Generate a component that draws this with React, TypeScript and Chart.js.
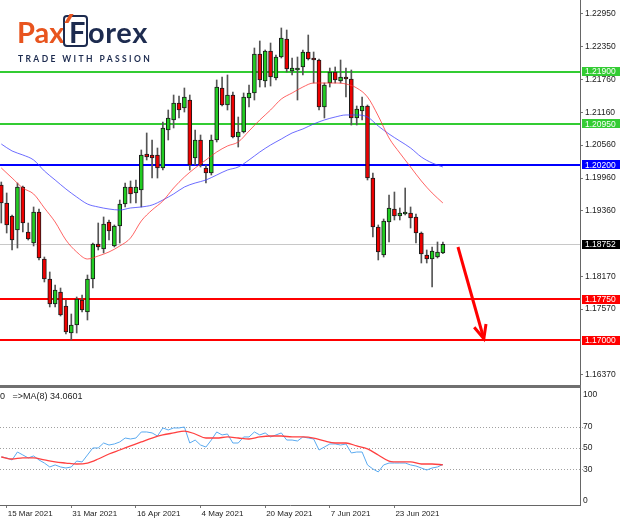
import React, { useEffect, useRef } from 'react';
import { Chart, registerables } from 'chart.js';

Chart.register(...registerables);

// ---------- Data (EURUSD daily) ----------
const OPEN = [
  1.19833, 1.19505, 1.19268, 1.19013, 1.19796, 1.18976, 1.18776, 1.19341, 1.18484, 1.18119,
  1.17664, 1.17882, 1.17627, 1.17135, 1.17281, 1.17737, 1.17518, 1.18119, 1.18757, 1.18666,
  1.19158, 1.18721, 1.19085, 1.19486, 1.19796, 1.19687, 1.19742, 1.20398, 1.20380, 1.20380,
  1.20143, 1.20835, 1.21018, 1.21328, 1.21236, 1.21382, 1.20325, 1.20653, 1.20143, 1.20052,
  1.20653, 1.21601, 1.21291, 1.21473, 1.20708, 1.20799, 1.21419, 1.21510, 1.22221, 1.21729,
  1.22275, 1.21783, 1.22166, 1.22494, 1.21911, 1.21929, 1.21984, 1.22257, 1.22148, 1.22111,
  1.21255, 1.21692, 1.21893, 1.21729, 1.21801, 1.21765, 1.21054, 1.21182, 1.21273, 1.19960,
  1.19067, 1.18557, 1.19158, 1.19395, 1.19268, 1.19304, 1.19322, 1.19250, 1.18958, 1.18557,
  1.18484, 1.18520, 1.18593,
];
const HIGH = [
  1.19887, 1.19687, 1.19286, 1.19869, 1.19815, 1.19140, 1.19432, 1.19395, 1.18520, 1.18247,
  1.18010, 1.17955, 1.17737, 1.17481, 1.17791, 1.17828, 1.18192, 1.18776, 1.19140, 1.19250,
  1.19195, 1.19104, 1.19559, 1.19869, 1.19906, 1.19924, 1.20471, 1.20781, 1.20653, 1.20507,
  1.20981, 1.21200, 1.21473, 1.21455, 1.21601, 1.21473, 1.20835, 1.20744, 1.20197, 1.20744,
  1.21747, 1.21801, 1.21838, 1.21528, 1.21072, 1.21510, 1.21656, 1.22330, 1.22458, 1.22294,
  1.22421, 1.22202, 1.22695, 1.22658, 1.22148, 1.22166, 1.22294, 1.22567, 1.22257, 1.22130,
  1.21692, 1.21965, 1.21984, 1.22111, 1.21965, 1.21929, 1.21273, 1.21437, 1.21291, 1.20052,
  1.19104, 1.19213, 1.19651, 1.19705, 1.19414, 1.19778, 1.19432, 1.19304, 1.18976, 1.18648,
  1.18703, 1.18794, 1.18794,
];
const LOW = [
  1.19140, 1.18958, 1.18648, 1.18684, 1.18976, 1.18830, 1.18721, 1.18466, 1.18065, 1.17609,
  1.17609, 1.17445, 1.17117, 1.17007, 1.17135, 1.17518, 1.17372, 1.17955, 1.18648, 1.18593,
  1.18830, 1.18703, 1.18776, 1.19432, 1.19505, 1.19505, 1.19432, 1.20289, 1.19960, 1.19960,
  1.20106, 1.20653, 1.20872, 1.21054, 1.21163, 1.20106, 1.20197, 1.20161, 1.19869, 1.20015,
  1.20617, 1.21273, 1.21200, 1.20690, 1.20525, 1.20781, 1.21255, 1.21382, 1.21619, 1.21619,
  1.21637, 1.21747, 1.22148, 1.21893, 1.21838, 1.21382, 1.21838, 1.22111, 1.21692, 1.21200,
  1.21054, 1.21619, 1.21692, 1.21692, 1.21437, 1.20926, 1.20926, 1.21018, 1.19924, 1.18885,
  1.18466, 1.18520, 1.18794, 1.19195, 1.19195, 1.19286, 1.19049, 1.18776, 1.18411, 1.18411,
  1.17974, 1.18502, 1.18580,
];
const CLOSE = [
  1.19505, 1.19104, 1.18830, 1.19796, 1.19140, 1.18849, 1.19341, 1.18502, 1.18119, 1.17664,
  1.17919, 1.17463, 1.17153, 1.17281, 1.17755, 1.17554, 1.18119, 1.18757, 1.18703, 1.19122,
  1.18994, 1.19085, 1.19486, 1.19796, 1.19669, 1.19796, 1.20380, 1.20343, 1.20325, 1.20143,
  1.20872, 1.21054, 1.21328, 1.21200, 1.21437, 1.20197, 1.20653, 1.20197, 1.20052, 1.20653,
  1.21619, 1.21291, 1.21473, 1.20708, 1.20799, 1.21437, 1.21510, 1.22221, 1.21747, 1.22275,
  1.21801, 1.22166, 1.22512, 1.21947, 1.21965, 1.21947, 1.22257, 1.22130, 1.22111, 1.21255,
  1.21656, 1.21893, 1.21747, 1.21801, 1.21765, 1.21054, 1.21218, 1.21273, 1.19960, 1.19067,
  1.18612, 1.19177, 1.19414, 1.19268, 1.19322, 1.19341, 1.19231, 1.18958, 1.18575, 1.18484,
  1.18630, 1.18612, 1.18752,
];

// moving averages sampled every second bar
const MA_IDX = [
  0, 2, 4, 6, 8, 10, 12, 14, 16, 18, 20, 22, 24, 26, 28, 30, 32, 34, 36, 38, 40,
  42, 44, 46, 48, 50, 52, 54, 56, 58, 60, 62, 64, 66, 68, 70, 72, 74, 76, 78, 80, 82,
];
const RED_MA = [
  1.20143, 1.19960, 1.19778, 1.19669, 1.19414, 1.19158, 1.18830, 1.18612, 1.18484, 1.18539,
  1.18612, 1.18721, 1.18867, 1.19177, 1.19377, 1.19541, 1.19778, 1.19979, 1.20143, 1.20289,
  1.20434, 1.20544, 1.20617, 1.20817, 1.21018, 1.21200, 1.21400, 1.21510, 1.21619, 1.21692,
  1.21692, 1.21692, 1.21674, 1.21601, 1.21437, 1.21091, 1.20690, 1.20416, 1.20161, 1.19906,
  1.19687, 1.19505,
];
const BLUE_MA = [
  1.20580, 1.20453, 1.20380, 1.20289, 1.20088, 1.19924, 1.19760, 1.19614, 1.19486, 1.19432,
  1.19395, 1.19377, 1.19414, 1.19432, 1.19468, 1.19559, 1.19669, 1.19796, 1.19869, 1.19924,
  1.20015, 1.20106, 1.20161, 1.20289, 1.20434, 1.20562, 1.20671, 1.20781, 1.20854, 1.20945,
  1.21018, 1.21072, 1.21109, 1.21109, 1.21072, 1.20908, 1.20762, 1.20635, 1.20507, 1.20343,
  1.20234, 1.20161,
];

// oscillator panel
const OSC = [
  41.5, 40.6, 38.7, 46.2, 43.4, 40.6, 42.5, 38.7, 35.8, 32.1,
  34.0, 32.1, 31.1, 32.1, 37.7, 36.8, 43.4, 50.0, 50.0, 54.7,
  52.8, 53.8, 55.7, 59.4, 58.5, 59.4, 65.1, 65.1, 64.2, 61.3,
  68.9, 67.0, 68.9, 68.9, 69.8, 54.7, 57.5, 52.8, 50.9, 57.5,
  65.1, 62.3, 63.2, 54.7, 54.7, 60.4, 60.4, 65.1, 62.3, 64.2,
  60.4, 62.3, 64.2, 57.5, 57.5, 56.6, 60.4, 59.4, 58.5, 48.1,
  50.9, 53.8, 53.8, 52.8, 53.8, 45.3, 46.2, 46.2, 34.0, 30.2,
  27.4, 34.0, 35.8, 35.8, 35.8, 35.8, 34.0, 33.0, 31.1, 29.2,
  31.1, 32.1, 34.5,
];
const OSC_MA = [
  41.5, 39.6, 40.6, 40.6, 38.7, 36.8, 35.8, 34.9, 35.8, 39.6,
  44.3, 48.1, 51.9, 55.7, 59.4, 62.3, 64.2, 66.0, 63.2, 59.4,
  59.4, 60.4, 59.4, 58.5, 60.4, 61.3, 61.3, 60.4, 60.4, 59.4,
  56.6, 54.7, 54.7, 51.9, 49.1, 43.4, 37.7, 36.8, 36.8, 34.9,
  34.9, 34.06,
];

const PRICE_TICKS = [1.2295, 1.2235, 1.2176, 1.2116, 1.2056, 1.1996, 1.1936, 1.1817, 1.1757, 1.1637];
const OSC_TICKS = [0, 30, 50, 70, 100];
const OSC_GRID = [30, 50, 70];
const DATE_TICK_IDX = [1, 13, 25, 37, 49, 61, 73];
const DATE_LABELS = ['15 Mar 2021', '31 Mar 2021', '16 Apr 2021', '4 May 2021', '20 May 2021', '7 Jun 2021', '23 Jun 2021'];
const LEVEL_PRICES = [1.219, 1.2095, 1.202, 1.1775, 1.17];
const LAST_PRICE = 1.18752;
const ARROW_FROM = [84.8, 1.18703];
const ARROW_TO = [89.6, 1.1703];

// ---------- styles ----------
const LEVEL_COLORS = ['#33cc33', '#33cc33', '#0000ff', '#ff0000', '#ff0000'];
const X_MIN = -0.24;
const X_MAX = 107.46;
const Y_MIN = 1.16187;
const Y_MAX = 1.23205;
const OSC_MIN = -3.8;
const OSC_MAX = 106.6;
const FAMILY = '"Liberation Sans", Arial, sans-serif';
const FONT = { family: FAMILY, size: 8.5 };
const DATE_FONT = { family: FAMILY, size: 8 };
const NAVY = '#1d2b4f';
const ORANGE = '#e8541e';

const mainPlugin = {
  id: 'mainDeco',
  beforeDatasetsDraw(chart: any) {
    const { ctx, chartArea: a, scales } = chart;
    const y = scales.y;
    ctx.save();
    const yl = Math.round(y.getPixelForValue(LAST_PRICE)) + 0.5;
    ctx.strokeStyle = '#c8c8c8';
    ctx.lineWidth = 1;
    ctx.beginPath();
    ctx.moveTo(a.left, yl);
    ctx.lineTo(a.right, yl);
    ctx.stroke();
    LEVEL_PRICES.forEach((p, k) => {
      const py = Math.round(y.getPixelForValue(p));
      ctx.strokeStyle = LEVEL_COLORS[k];
      ctx.lineWidth = 2;
      ctx.beginPath();
      ctx.moveTo(a.left, py);
      ctx.lineTo(a.right, py);
      ctx.stroke();
    });
    ctx.restore();
  },
  afterDraw(chart: any) {
    const { ctx, chartArea: a, scales } = chart;
    const x = scales.x;
    const y = scales.y;
    ctx.save();
    // arrow
    const x1 = x.getPixelForValue(ARROW_FROM[0]);
    const y1 = y.getPixelForValue(ARROW_FROM[1]);
    const x2 = x.getPixelForValue(ARROW_TO[0]);
    const y2 = y.getPixelForValue(ARROW_TO[1]);
    ctx.strokeStyle = '#ff0000';
    ctx.lineWidth = 3;
    ctx.beginPath();
    ctx.moveTo(x1, y1);
    ctx.lineTo(x2, y2);
    ctx.stroke();
    const ang = Math.atan2(y2 - y1, x2 - x1);
    const L = 15;
    const sp = 0.42;
    ctx.beginPath();
    ctx.moveTo(x2 - L * Math.cos(ang - sp), y2 - L * Math.sin(ang - sp));
    ctx.lineTo(x2, y2);
    ctx.lineTo(x2 - L * Math.cos(ang + sp), y2 - L * Math.sin(ang + sp));
    ctx.stroke();
    // price boxes
    ctx.font = `${FONT.size}px ${FONT.family}`;
    ctx.textBaseline = 'middle';
    ctx.textAlign = 'left';
    const box = (p: number, bg: string) => {
      const py = y.getPixelForValue(p);
      ctx.fillStyle = bg;
      ctx.fillRect(a.right + 2, Math.round(py - 4.5), 38, 9);
      ctx.fillStyle = '#ffffff';
      ctx.fillText(p.toFixed(5), a.right + 5, py + 0.5);
    };
    LEVEL_PRICES.forEach((p, k) => box(p, LEVEL_COLORS[k]));
    box(LAST_PRICE, '#000000');
    ctx.restore();
  },
};

const oscPlugin = {
  id: 'oscDeco',
  beforeDatasetsDraw(chart: any) {
    const { ctx, chartArea: a, scales } = chart;
    const y = scales.y;
    ctx.save();
    ctx.strokeStyle = '#a0a0a0';
    ctx.lineWidth = 1;
    ctx.setLineDash([1, 2]);
    OSC_GRID.forEach((v) => {
      const py = Math.round(y.getPixelForValue(v)) + 0.5;
      ctx.beginPath();
      ctx.moveTo(a.left, py);
      ctx.lineTo(a.right + 3, py);
      ctx.stroke();
    });
    ctx.restore();
  },
  afterDraw(chart: any) {
    const { ctx, chartArea: a } = chart;
    ctx.save();
    ctx.fillStyle = '#707070';
    ctx.fillRect(0, 0, a.right + 1, 3);
    ctx.restore();
  },
};

export default function App() {
  const mainRef = useRef<HTMLCanvasElement>(null);
  const oscRef = useRef<HTMLCanvasElement>(null);

  useEffect(() => {
    const idx = OPEN.map((_, i) => i);
    const bodyColors = idx.map((i) => (CLOSE[i] >= OPEN[i] ? '#22cc22' : '#ee0000'));
    const main = new Chart(mainRef.current as HTMLCanvasElement, {
      type: 'bar',
      data: {
        datasets: [
          {
            type: 'line',
            data: MA_IDX.map((v, k) => ({ x: v, y: RED_MA[k] })),
            borderColor: 'rgba(255,50,50,0.75)',
            borderWidth: 1,
            pointRadius: 0,
            cubicInterpolationMode: 'monotone',
            order: 0,
          } as any,
          {
            type: 'line',
            data: MA_IDX.map((v, k) => ({ x: v, y: BLUE_MA[k] })),
            borderColor: 'rgba(60,60,255,0.75)',
            borderWidth: 1,
            pointRadius: 0,
            cubicInterpolationMode: 'monotone',
            order: 0,
          } as any,
          {
            type: 'bar',
            data: idx.map((i) => ({ x: i, y: [OPEN[i], CLOSE[i]] })),
            backgroundColor: bodyColors,
            borderColor: '#1a1a1a',
            borderWidth: 1,
            borderSkipped: false,
            barThickness: 4,
            minBarLength: 2,
            grouped: false,
            order: 1,
          } as any,
          {
            type: 'bar',
            data: idx.map((i) => ({ x: i, y: [LOW[i], HIGH[i]] })),
            backgroundColor: '#555555',
            barThickness: 1,
            grouped: false,
            order: 2,
          } as any,
        ],
      },
      options: {
        responsive: false,
        animation: false,
        events: [],
        layout: { padding: 0 },
        plugins: { legend: { display: false }, tooltip: { enabled: false } },
        scales: {
          x: { type: 'linear', min: X_MIN, max: X_MAX, offset: false, display: false },
          y: {
            type: 'linear',
            position: 'right',
            min: Y_MIN,
            max: Y_MAX,
            afterBuildTicks: (s: any) => {
              s.ticks = PRICE_TICKS.map((v) => ({ value: v }));
            },
            afterFit: (s: any) => {
              s.width = 44;
              s.paddingTop = 0;
              s.paddingBottom = 0;
            },
            ticks: {
              callback: (v: any) => Number(v).toFixed(5),
              font: FONT,
              color: '#222222',
              padding: 2,
              autoSkip: false,
            },
            grid: { drawOnChartArea: false, drawTicks: true, tickLength: 3, color: '#777777' },
            border: { display: true, color: '#666666', width: 1 },
          },
        },
      } as any,
      plugins: [mainPlugin],
    });

    const osc = new Chart(oscRef.current as HTMLCanvasElement, {
      type: 'line',
      data: {
        datasets: [
          {
            data: MA_IDX.map((v, k) => ({ x: v, y: OSC_MA[k] })),
            borderColor: '#ff4040',
            borderWidth: 1.3,
            pointRadius: 0,
            cubicInterpolationMode: 'monotone',
            order: 0,
          },
          {
            data: OSC.map((v, i) => ({ x: i, y: v })),
            borderColor: '#5aaaf0',
            borderWidth: 1,
            pointRadius: 0,
            tension: 0,
            order: 1,
          },
        ],
      },
      options: {
        responsive: false,
        animation: false,
        events: [],
        layout: { padding: { top: 3, left: 0, right: 0, bottom: 0 } },
        plugins: { legend: { display: false }, tooltip: { enabled: false } },
        scales: {
          x: {
            type: 'linear',
            min: X_MIN,
            max: X_MAX,
            offset: false,
            position: 'bottom',
            afterBuildTicks: (s: any) => {
              s.ticks = DATE_TICK_IDX.map((v) => ({ value: v }));
            },
            afterFit: (s: any) => {
              s.height = 15;
              s.paddingLeft = 0;
              s.paddingRight = 0;
            },
            ticks: {
              callback: (v: any) => {
                const k = DATE_TICK_IDX.indexOf(Number(v));
                return k >= 0 ? DATE_LABELS[k] : '';
              },
              align: 'start',
              maxRotation: 0,
              autoSkip: false,
              padding: 1,
              labelOffset: 1,
              font: DATE_FONT,
              color: '#222222',
            },
            grid: { drawOnChartArea: false, drawTicks: true, tickLength: 3, color: '#777777' },
            border: { display: true, color: '#666666', width: 1 },
          },
          y: {
            type: 'linear',
            position: 'right',
            min: OSC_MIN,
            max: OSC_MAX,
            afterBuildTicks: (s: any) => {
              s.ticks = OSC_TICKS.map((v) => ({ value: v }));
            },
            afterFit: (s: any) => {
              s.width = 44;
              s.paddingTop = 0;
              s.paddingBottom = 0;
            },
            ticks: {
              callback: (v: any) => String(v),
              font: FONT,
              color: '#222222',
              padding: 3,
              autoSkip: false,
            },
            grid: { display: false, drawTicks: false },
            border: { display: true, color: '#666666', width: 1 },
          },
        },
      } as any,
      plugins: [oscPlugin],
    });

    return () => {
      main.destroy();
      osc.destroy();
    };
  }, []);

  const logoFont = '700 29px Lato, "Open Sans", sans-serif';
  return (
    <div style={{ position: 'absolute', left: 0, top: 0, width: 624, height: 520, background: '#ffffff', overflow: 'hidden' }}>
      <canvas ref={mainRef} width={624} height={385} style={{ position: 'absolute', left: 0, top: 0 }} />
      <canvas ref={oscRef} width={624} height={135} style={{ position: 'absolute', left: 0, top: 385 }} />
      <div style={{ position: 'absolute', left: 17, top: 17, font: logoFont, lineHeight: '29px', color: ORANGE, whiteSpace: 'pre' }}>Pax</div>
      <div style={{ position: 'absolute', left: 63, top: 15, width: 25, height: 32, border: `2px solid ${NAVY}`, borderRadius: 4, boxSizing: 'border-box' }} />
      <div style={{ position: 'absolute', left: 67, top: 14, width: 4, height: 9, background: ORANGE, transform: 'skewX(-30deg)' }} />
      <div style={{ position: 'absolute', left: 69, top: 17, font: logoFont, lineHeight: '29px', color: NAVY }}>F</div>
      <div style={{ position: 'absolute', left: 88, top: 17, font: logoFont, lineHeight: '29px', letterSpacing: '0.6px', color: NAVY, whiteSpace: 'pre' }}>orex</div>
      <div style={{ position: 'absolute', left: 18, top: 55, font: '700 8.5px Lato, sans-serif', lineHeight: '8.5px', letterSpacing: '2.4px', color: NAVY, whiteSpace: 'pre' }}>TRADE WITH PASSION</div>
      <div style={{ position: 'absolute', left: -5, top: 391, font: '9px "Liberation Sans", Arial, sans-serif', lineHeight: '11px', color: '#222222', whiteSpace: 'pre' }}>70   =&gt;MA(8) 34.0601</div>
    </div>
  );
}
